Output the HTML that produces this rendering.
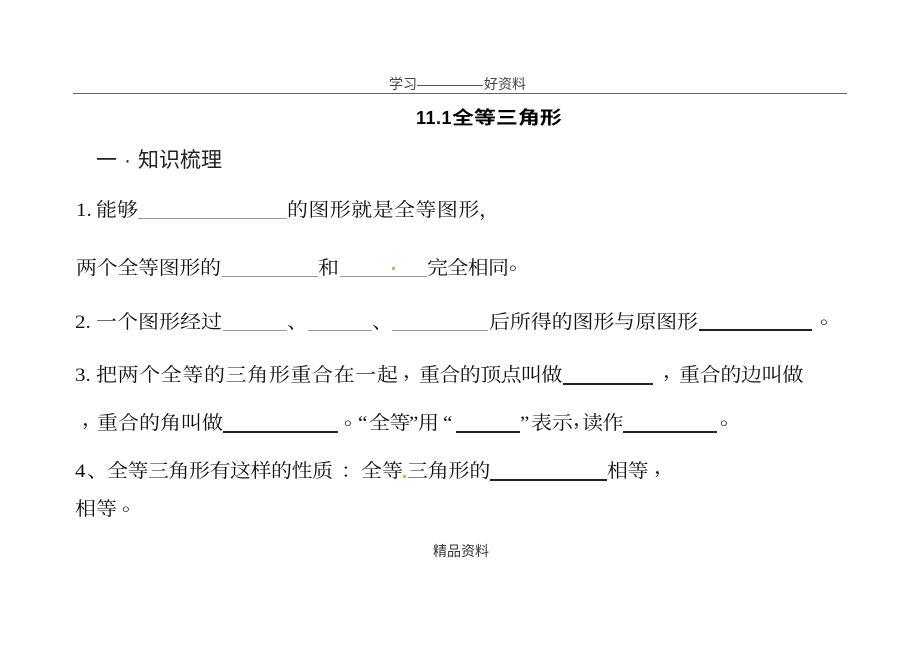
<!DOCTYPE html>
<html>
<head>
<meta charset="utf-8">
<style>
html,body{margin:0;padding:0;background:#fff;}
body{width:920px;height:650px;position:relative;overflow:hidden;}
.s{position:absolute;white-space:nowrap;line-height:1;font-family:"Liberation Serif","Noto Serif CJK SC",serif;font-size:19px;color:#111;transform:scaleX(1.105);transform-origin:0 0;}
.h{position:absolute;white-space:nowrap;line-height:1;font-family:"Liberation Sans","Noto Sans CJK SC",sans-serif;font-size:14px;color:#444;}
.u{position:absolute;height:1px;background:#9a9a9a;}
.d{position:absolute;height:2px;background:#222;}
.y{position:absolute;width:3px;height:3px;background:#d2b54a;}
</style>
</head>
<body>

<!-- header -->
<span class="h" style="left:389px;top:77px;">学习</span>
<span class="h" style="left:417px;top:77px;transform:scaleX(1.18);transform-origin:0 0;">————</span>
<span class="h" style="left:484px;top:77px;">好资料</span>
<div style="position:absolute;left:73px;top:93px;width:774px;height:1px;background:#666;"></div>

<!-- title -->
<span style="position:absolute;left:416px;top:109px;line-height:1;font-family:'Liberation Sans',sans-serif;font-weight:bold;font-size:18px;color:#000;white-space:nowrap;letter-spacing:0.5px;">11.1</span>
<span style="position:absolute;left:452px;top:109px;line-height:1;font-family:'Liberation Sans','Noto Sans CJK SC',sans-serif;font-weight:bold;font-size:18px;color:#000;white-space:nowrap;transform:scaleX(1.22);transform-origin:0 0;">全等三角形</span>

<!-- section heading -->
<span style="position:absolute;left:96px;top:150px;line-height:1;font-family:'Liberation Sans','Noto Sans CJK SC',sans-serif;font-size:21px;color:#222;white-space:nowrap;">一</span>
<span style="position:absolute;left:124px;top:150px;line-height:1;font-family:'Liberation Sans','Noto Sans CJK SC',sans-serif;font-size:21px;color:#222;white-space:nowrap;">·</span>
<span style="position:absolute;left:138px;top:150px;line-height:1;font-family:'Liberation Sans','Noto Sans CJK SC',sans-serif;font-size:21px;color:#222;white-space:nowrap;">知识梳理</span>

<!-- row 1 (center 210) -->
<span class="s" style="left:76px;top:201px;">1.</span>
<span class="s" style="left:96px;top:201px;">能够</span>
<div class="u" style="left:138px;top:218px;width:149px;"></div>
<span class="s" style="left:287px;top:201px;letter-spacing:0.37px;">的图形就是全等图形</span>
<span class="s" style="left:479px;top:201px;">，</span>

<!-- row 2 (center 268) -->
<span class="s" style="left:76px;top:259px;letter-spacing:-0.3px;">两个全等图形的</span>
<div class="u" style="left:222px;top:276px;width:96px;"></div>
<span class="s" style="left:318px;top:259px;">和</span>
<div class="u" style="left:340px;top:276px;width:87px;"></div>
<div class="y" style="left:392px;top:267px;"></div>
<span class="s" style="left:427px;top:259px;letter-spacing:-0.6px;">完全相同</span>
<span class="s" style="left:509px;top:254px;">。</span>

<!-- item 2 (center 322) -->
<span class="s" style="left:75px;top:313px;">2.</span>
<span class="s" style="left:96px;top:313px;">一个图形经过</span>
<div class="u" style="left:223px;top:330px;width:64px;"></div>
<span class="s" style="left:287px;top:313px;">、</span>
<div class="u" style="left:308px;top:330px;width:64px;"></div>
<span class="s" style="left:372px;top:313px;">、</span>
<div class="u" style="left:392px;top:330px;width:96px;"></div>
<span class="s" style="left:489px;top:313px;letter-spacing:-0.1px;">后所得的图形与原图形</span>
<div class="d" style="left:699px;top:329px;width:113px;"></div>
<span class="s" style="left:820px;top:308px;">。</span>

<!-- item 3 line 1 (center 375) -->
<span class="s" style="left:75px;top:366px;">3.</span>
<span class="s" style="left:96px;top:366px;letter-spacing:0.55px;">把两个全等的三角形重合在一起</span>
<span class="s" style="left:403px;top:362px;">，</span>
<span class="s" style="left:419px;top:366px;letter-spacing:-0.54px;">重合的顶点叫做</span>
<div class="d" style="left:563px;top:383px;width:90px;"></div>
<span class="s" style="left:663px;top:362px;">，</span>
<span class="s" style="left:679px;top:366px;letter-spacing:-0.3px;">重合的边叫做</span>

<!-- item 3 line 2 (center 423) -->
<span class="s" style="left:82px;top:410px;">，</span>
<span class="s" style="left:97px;top:414px;">重合的角叫做</span>
<div class="d" style="left:223px;top:431px;width:115px;"></div>
<span class="s" style="left:344px;top:409px;">。</span>
<span class="s" style="left:358px;top:414px;">“</span>
<span class="s" style="left:369px;top:414px;letter-spacing:-0.5px;">全等</span>
<span class="s" style="left:409px;top:414px;">”</span>
<span class="s" style="left:418px;top:414px;">用</span>
<span class="s" style="left:443px;top:414px;">“</span>
<div class="d" style="left:456px;top:431px;width:64px;"></div>
<span class="s" style="left:520px;top:414px;">”</span>
<span class="s" style="left:531px;top:414px;">表示</span>
<span class="s" style="left:573px;top:410px;">，</span>
<span class="s" style="left:582px;top:414px;letter-spacing:-0.5px;">读作</span>
<div class="d" style="left:623px;top:431px;width:94px;"></div>
<span class="s" style="left:720px;top:409px;">。</span>

<!-- item 4 (center 471) -->
<span class="s" style="left:75px;top:462px;">4</span>
<span class="s" style="left:87px;top:462px;">、</span>
<span class="s" style="left:107px;top:462px;letter-spacing:-0.45px;">全等三角形有这样的性质</span>
<span class="s" style="left:341px;top:462px;">：</span>
<span class="s" style="left:361px;top:462px;">全等</span>
<div class="y" style="left:403px;top:475px;"></div>
<span class="s" style="left:407px;top:462px;letter-spacing:-0.2px;">三角形的</span>
<div class="d" style="left:490px;top:479px;width:117px;"></div>
<span class="s" style="left:607px;top:462px;letter-spacing:-0.3px;">相等</span>
<span class="s" style="left:654px;top:458px;">，</span>

<!-- row 7 (center 509) -->
<span class="s" style="left:75px;top:500px;">相等</span>
<span class="s" style="left:122px;top:495px;">。</span>

<!-- footer -->
<span class="h" style="left:433px;top:544px;color:#333;">精品资料</span>

</body>
</html>
